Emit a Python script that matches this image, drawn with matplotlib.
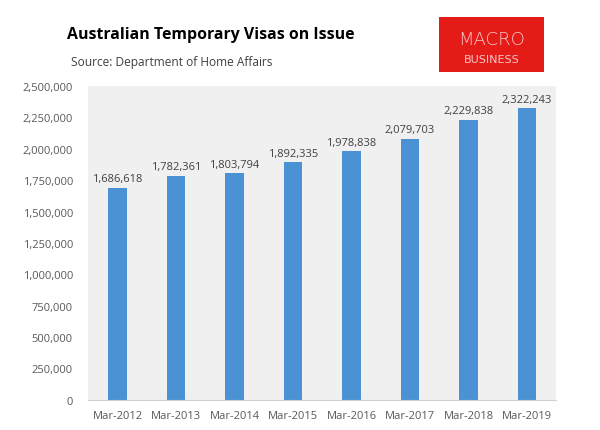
import matplotlib.pyplot as plt
from matplotlib.patches import Rectangle
from matplotlib.ticker import FuncFormatter, MultipleLocator

# data
years = ["Mar-2012", "Mar-2013", "Mar-2014", "Mar-2015",
         "Mar-2016", "Mar-2017", "Mar-2018", "Mar-2019"]
visas = [1686618, 1782361, 1803794, 1892335,
         1978838, 2079703, 2229838, 2322243]

plt.rcParams["font.family"] = ["Open Sans", "DejaVu Sans"]

fig = plt.figure(figsize=(6.0, 4.31), dpi=100)
fig.patch.set_facecolor("white")
ax = fig.add_axes([0.147, 0.070, 0.780, 0.728])
ax.set_facecolor("#f0f0f0")

x = range(len(years))
bars = ax.bar(x, visas, width=0.31, color="#4a92d4", zorder=2)

for xi, v in zip(x, visas):
    ax.text(xi, v + 30000, f"{v:,}", ha="center", va="bottom",
            fontsize=8, color="#404040")

ax.set_xlim(-0.5, len(years) - 0.5)
ax.set_ylim(0, 2500000)
ax.yaxis.set_major_locator(MultipleLocator(250000))
ax.yaxis.set_major_formatter(FuncFormatter(lambda v, p: f"{int(v):,}"))
ax.set_xticks(list(x))
ax.set_xticklabels(years)
ax.tick_params(axis="both", length=0, labelsize=8, colors="#595959")
ax.tick_params(axis="y", pad=11)
ax.tick_params(axis="x", pad=7)

for side in ["top", "right", "left"]:
    ax.spines[side].set_visible(False)
ax.spines["bottom"].set_color("#d0d0d0")
ax.spines["bottom"].set_linewidth(0.8)

fig.text(0.112, 0.918, "Australian Temporary Visas on Issue",
         fontsize=11.4, fontweight="bold", color="black", va="center")
fig.text(0.118, 0.856, "Source: Department of Home Affairs",
         fontsize=8.6, color="#404040", va="center")

# logo box
fig.patches.append(Rectangle((0.732, 0.831), 0.175, 0.127,
                             transform=fig.transFigure, facecolor="#e41b17",
                             edgecolor="none"))
fig.text(0.820, 0.908, "MACRO", fontsize=13, color="#f6c8c8",
         ha="center", va="center", family="DejaVu Sans",
         fontweight="light")
fig.text(0.820, 0.860, "BUSINESS", fontsize=8, color="#f6c8c8",
         ha="center", va="center", family="DejaVu Sans")

fig.savefig("out.png", dpi=100)
